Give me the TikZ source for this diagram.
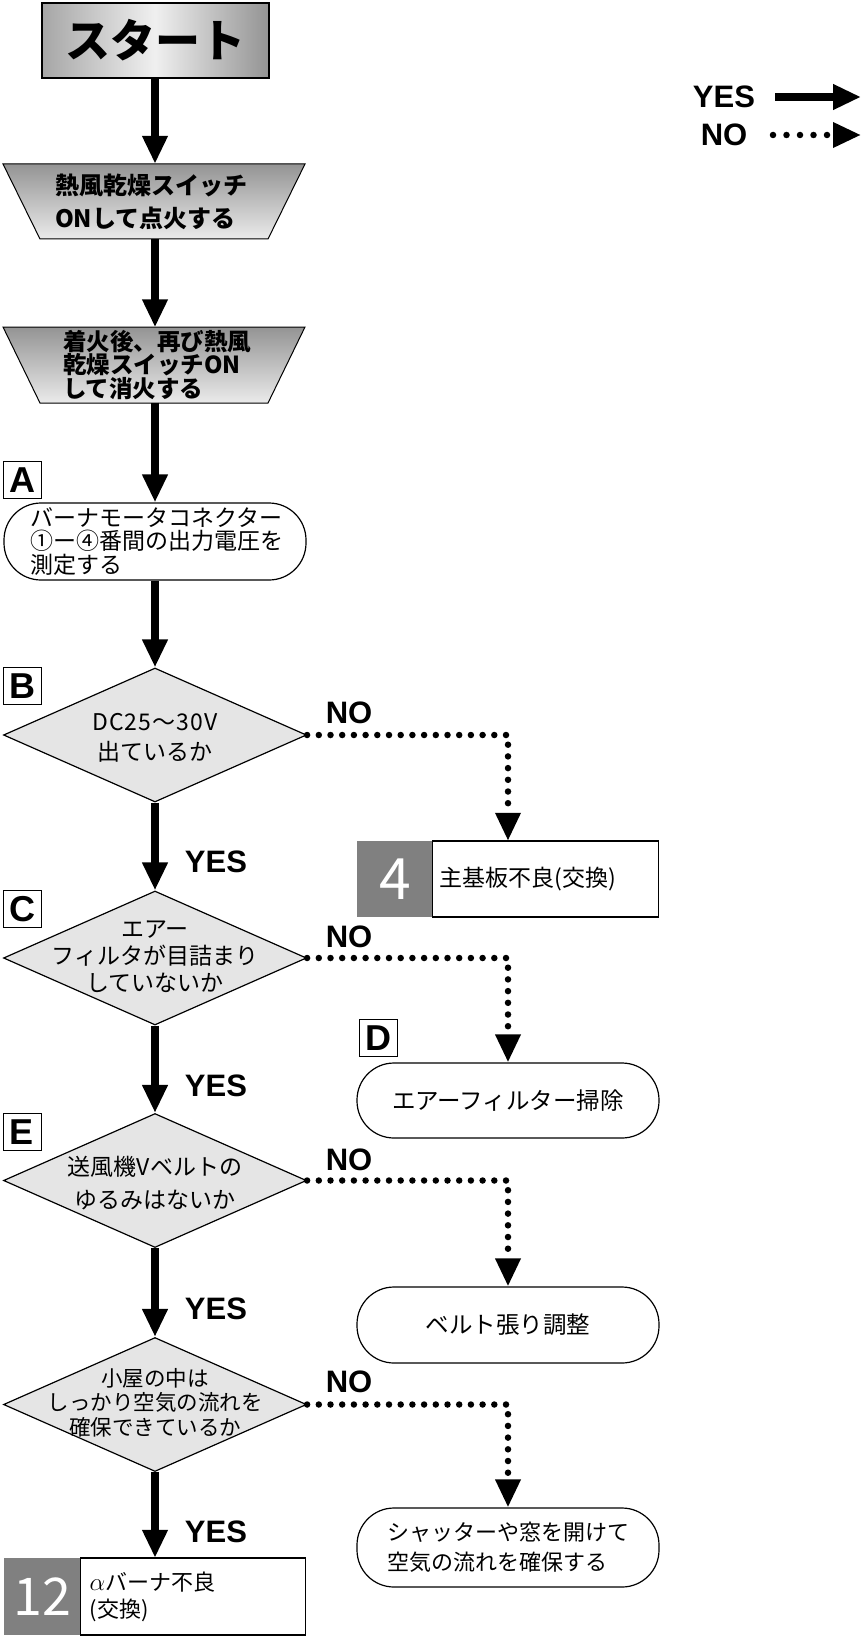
\documentclass[tikz,border=0pt]{standalone}
\usepackage{fontspec}
\setmainfont{Noto Sans CJK JP}
\newfontfamily\lat{Liberation Sans}
\usetikzlibrary{arrows.meta,shapes.geometric,calc}
\setlength{\lineskiplimit}{-100pt}
\begin{document}
\begin{tikzpicture}[x=1pt,y=-1pt]
\tikzset{
 yesarrow/.style={line width=8pt, -{Triangle[length=28pt,width=24pt]}},
 noarrow/.style={line width=6.5pt, line cap=round, dash pattern=on 0pt off 11.7pt, -{Triangle[length=28pt,width=24pt]}},
 dia/.style={diamond, draw, line width=1.2pt, fill=gray!20, minimum width=303pt, minimum height=134pt, inner sep=0pt},
 dtext/.style={align=center, inner sep=0pt},
 rbox/.style={draw, line width=1.2pt, rounded corners=37pt, minimum width=302pt, inner sep=0pt, fill=white},
 ltr/.style={draw, line width=1pt, minimum width=38pt, minimum height=37pt, inner sep=0pt, font=\lat\bfseries\fontsize{36pt}{36pt}\selectfont},
 yn/.style={inner sep=0pt, font=\lat\bfseries\fontsize{31pt}{31pt}\selectfont},
 trap/.style={draw=black, line width=1pt, top color=black!42, bottom color=black!8},
 trtext/.style={inner sep=0pt, minimum height=75pt, align=left},
 graycell/.style={fill=gray, text=white, inner sep=0pt},
 whitecell/.style={draw, line width=1.2pt, fill=white, inner sep=0pt, align=left},
}
\useasboundingbox (0,0) rectangle (862,1637);

% start
\node[draw, line width=2pt, left color=black!35, right color=black!42, middle color=black!6,
  minimum width=227pt, minimum height=75pt, inner sep=0pt,
  font=\bfseries\fontsize{45pt}{45pt}\selectfont] (S) at (155,40.5) {スタート};

% trapezoids
\shadedraw[trap] (3,164) -- (305,164) -- (268,239) -- (40,239) -- cycle;
\node[trtext, text width=200pt, font=\bfseries\fontsize{24pt}{33pt}\selectfont] (T1) at (155,201.5) {熱風乾燥スイッチ\\ONして点火する};
\shadedraw[trap] (3,327) -- (305,327) -- (268,403) -- (40,403) -- cycle;
\node[trtext, text width=184pt, font=\bfseries\fontsize{23.5pt}{22.5pt}\selectfont] (T2) at (155,365) {着火後、再び熱風\\乾燥スイッチON\\して消火する};

% A
\node[ltr] (LA) at (22,480) {A};
\node[rbox, minimum height=77pt, text width=250pt, align=left, font=\fontsize{23pt}{23.5pt}\selectfont] (RA) at (155,541.5) {バーナモータコネクター\\①ー④番間の出力電圧を\\測定する};

% B
\node[ltr] (LB) at (22,686) {B};
\node[dia] (B) at (155,735) {};
\node[dtext, font=\fontsize{23pt}{30pt}\selectfont] (Bt) at (155,738) {{\addfontfeature{LetterSpace=5}DC25～30V}\\出ているか};

% box 4
\node[inner sep=0pt, minimum width=302pt, minimum height=76pt] (box4) at (508,879) {};
\node[graycell, anchor=west, minimum width=76pt, minimum height=76pt, font=\fontsize{57pt}{57pt}\selectfont] (g4) at (box4.west) {4};
\node[whitecell, anchor=east, minimum height=76pt, text width=212pt, inner xsep=7pt, font=\fontsize{23pt}{23pt}\selectfont] (w4) at (box4.east) {主基板不良(交換)};

% C
\node[ltr] (LC) at (22,909) {C};
\node[dia] (C) at (155,958) {};
\node[dtext, font=\fontsize{23pt}{27pt}\selectfont] (Ct) at (155,956.5) {エアー\\フィルタが目詰まり\\していないか};

% D
\node[ltr] (LD) at (378,1038) {D};
\node[rbox, minimum height=75pt, font=\fontsize{23.5pt}{23.5pt}\selectfont] (D) at (508,1100.5) {エアーフィルター掃除};

% E
\node[ltr] (LE) at (22,1132) {E};
\node[dia] (E) at (155,1180.5) {};
\node[dtext, font=\fontsize{23pt}{33pt}\selectfont] (Et) at (155,1183.5) {送風機Vベルトの\\ゆるみはないか};
\node[rbox, minimum height=76pt, font=\fontsize{23.5pt}{23.5pt}\selectfont] (belt) at (508,1325) {ベルト張り調整};

% F
\node[dia] (F) at (155,1404.5) {};
\node[dtext, font=\fontsize{21.5pt}{24.5pt}\selectfont] (Ft) at (155,1402.5) {小屋の中は\\しっかり空気の流れを\\確保できているか};
\node[rbox, minimum height=79pt, text width=242pt, align=left, font=\fontsize{22pt}{30pt}\selectfont] (shut) at (508,1547.5) {シャッターや窓を開けて\\空気の流れを確保する};

% box 12
\node[inner sep=0pt, minimum width=302pt, minimum height=77pt] (box12) at (155,1596.5) {};
\node[graycell, anchor=west, minimum width=77pt, minimum height=77pt, font=\fontsize{52pt}{52pt}\selectfont] (g12) at (box12.west) {12};
\node[whitecell, anchor=east, minimum height=77pt, text width=207pt, inner xsep=9pt, font=\fontsize{22pt}{27pt}\selectfont] (w12) at (box12.east) {{\fontsize{27pt}{27pt}\selectfont$\alpha$}バーナ不良\\ (交換)};

% YES arrows
\draw[yesarrow] (S.south) -- (T1.north);
\draw[yesarrow] (T1.south) -- (T2.north);
\draw[yesarrow] (T2.south) -- (RA.north);
\draw[yesarrow] (RA.south) -- (B.north);
\draw[yesarrow] (B.south) -- (C.north);
\draw[yesarrow] (C.south) -- (E.north);
\draw[yesarrow] (E.south) -- (F.north);
\draw[yesarrow] (F.south) -- (box12.north);

% NO arrows
\draw[noarrow] (B.east) -| (box4.north);
\draw[noarrow] (C.east) -| (D.north);
\draw[noarrow] (E.east) -| (belt.north);
\draw[noarrow] (F.east) -| (shut.north);

% labels
\node[yn] (y1) at (216,862) {YES};
\node[yn] (y2) at (216,1086) {YES};
\node[yn] (y3) at (216,1309) {YES};
\node[yn] (y4) at (216,1532) {YES};
\node[yn] (n1) at (349,713) {NO};
\node[yn] (n2) at (349,937) {NO};
\node[yn] (n3) at (349,1160) {NO};
\node[yn] (n4) at (349,1382) {NO};

% legend
\node[yn] (ly) at (724,97) {YES};
\node[yn] (ln) at (724,135) {NO};
\coordinate (ly1) at (775,97);
\coordinate (ly2) at (861,97);
\coordinate (ln1) at (773,135);
\coordinate (ln2) at (861,135);
\draw[yesarrow] (ly1) -- (ly2);
\draw[noarrow, dash pattern=on 0pt off 13.5pt] (ln1) -- (ln2);
\end{tikzpicture}
\end{document}
